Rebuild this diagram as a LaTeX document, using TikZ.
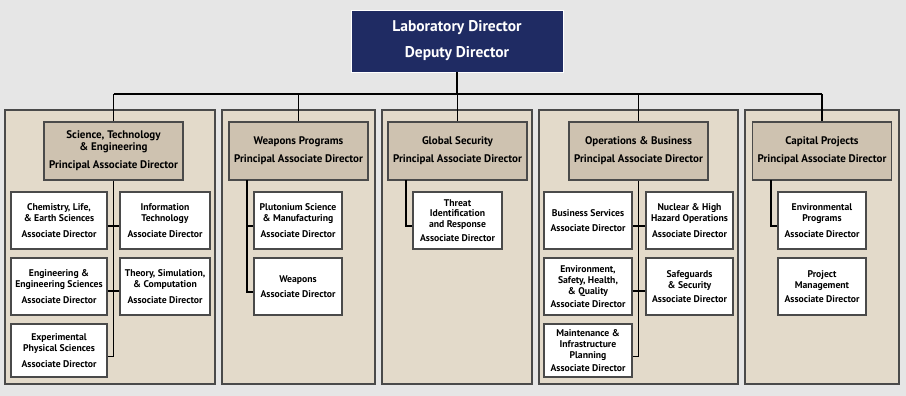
\documentclass[tikz,border=0pt]{standalone}
\usepackage{fontspec}
\setmainfont{PT Sans}
\usepackage{tikz}
\usetikzlibrary{positioning, calc}
\definecolor{pagebg}{HTML}{E6E6E6}
\definecolor{panelfill}{HTML}{E3DACA}
\definecolor{headfill}{HTML}{CEC2B0}
\definecolor{boxline}{HTML}{4A4A4A}
\definecolor{labnavy}{HTML}{1F2B63}
\tikzset{
  panel/.style={draw=boxline, line width=1.3pt, fill=panelfill},
  topbox/.style={draw=white, line width=0.8pt, fill=labnavy, text=white, inner sep=0pt,
    minimum width=212pt, minimum height=62pt, align=center,
    font=\fontsize{15.5}{17}\selectfont\bfseries},
  padbox/.style={draw=boxline, line width=1.3pt, fill=headfill, inner sep=0pt,
    minimum width=139pt, minimum height=58pt, align=center,
    font=\fontsize{11}{12}\selectfont\bfseries},
  adbox/.style={draw=boxline, line width=1.3pt, fill=white, inner sep=0pt,
    minimum width=89pt, minimum height=57pt, align=center,
    font=\fontsize{9.7}{11.2}\selectfont\bfseries},
  link/.style={draw=black, line width=1.6pt}
}
\begin{document}
\begin{tikzpicture}[x=1pt, y=-1pt]
            % page and panels
            \fill[pagebg] (0,0) rectangle (906,396);
            \useasboundingbox (0,0) rectangle (906,396);
            \draw[panel] (5,110) rectangle (215,384);
            \draw[panel] (222,110) rectangle (375,384);
            \draw[panel] (382,110) rectangle (532,384);
            \draw[panel] (539,110) rectangle (738,384);
            \draw[panel] (745,110) rectangle (899,384);

            % Director
            \node[topbox] (lab) at (457,41) {Laboratory Director\\[9pt]Deputy Director};
            \coordinate (bus) at (0,94);

            % Principal associate directors
            \node[padbox] (ste) at (113.5,151) {Science, Technology\\\& Engineering\\[6pt]Principal Associate Director};
            \node[padbox] (wpn) at (298.5,151) {Weapons Programs\\[6pt]Principal Associate Director};
            \node[padbox] (gsc) at (457.5,151) {Global Security\\[6pt]Principal Associate Director};
            \node[padbox] (opb) at (638.5,151) {Operations \& Business\\[6pt]Principal Associate Director};
            \node[padbox] (cap) at (822,151) {Capital Projects\\[6pt]Principal Associate Director};

            % Science, Technology & Engineering
            \node[adbox, minimum width=96pt] (che) at (59,220.5) {Chemistry, Life,\\\& Earth Sciences\\[4pt]Associate Director};
            \node[adbox, minimum width=90pt] (inf) at (165,220.5) {Information\\Technology\\[4pt]Associate Director};
            \node[adbox, minimum width=96pt] (eng) at (59,286.5) {Engineering \&\\Engineering Sciences\\[4pt]Associate Director};
            \node[adbox, minimum width=90pt] (tsc) at (165,286.5) {Theory, Simulation,\\\& Computation\\[4pt]Associate Director};
            \node[adbox, minimum width=96pt, minimum height=53pt] (eps) at (59,350.5) {Experimental\\Physical Sciences\\[4pt]Associate Director};

            % Weapons Programs
            \node[adbox, minimum width=88pt] (plu) at (298,220.5) {Plutonium Science\\\& Manufacturing\\[4pt]Associate Director};
            \node[adbox, minimum width=88pt] (wea) at (298,286.5) {Weapons\\[4pt]Associate Director};

            % Global Security
            \node[adbox, font=\fontsize{9.7}{10.8}\selectfont\bfseries] (tir) at (457.5,220.5) {Threat\\Identification\\and Response\\[3pt]Associate Director};

            % Operations & Business
            \node[adbox, minimum width=88pt] (bsv) at (588,220.5) {Business Services\\[4pt]Associate Director};
            \node[adbox, minimum width=87pt] (nhh) at (689.5,220.5) {Nuclear \& High\\Hazard Operations\\[4pt]Associate Director};
            \node[adbox, minimum width=88pt, font=\fontsize{9.7}{10.8}\selectfont\bfseries] (esh) at (588,286.5) {Environment,\\Safety, Health,\\\& Quality\\[2pt]Associate Director};
            \node[adbox, minimum width=87pt] (saf) at (689.5,286.5) {Safeguards\\\& Security\\[2pt]Associate Director};
            \node[adbox, minimum width=88pt, minimum height=53pt, font=\fontsize{9.7}{10.8}\selectfont\bfseries] (mip) at (588,350.5) {Maintenance \&\\Infrastructure\\Planning\\[2pt]Associate Director};

            % Capital Projects
            \node[adbox, minimum width=88pt] (env) at (822,220.5) {Environmental\\Programs\\[4pt]Associate Director};
            \node[adbox, minimum width=88pt] (pmg) at (822,286.5) {Project\\Management\\[2pt]Associate Director};

            % top level links
            \draw[link] (lab.south) -- (lab.south |- bus);
            \draw[link] (ste.north |- bus) -- (cap.north |- bus);
            \foreach \pad in {ste, wpn, gsc, opb, cap}
              \draw[link] (\pad.north |- bus) -- (\pad.north);

            % Science, Technology & Engineering links
            \draw[link] (ste.south) |- ([yshift=-6pt]eps.east);
            \draw[link] ([yshift=-5.5pt]che.east) -- ([yshift=-5.5pt]inf.west);
            \draw[link] ([yshift=-4.5pt]eng.east) -- ([yshift=-4.5pt]tsc.west);

            % Weapons Programs links
            \coordinate (wpnT) at (247,180);
            \draw[link] (wpnT) |- ([yshift=-5.5pt]plu.west);
            \draw[link] (wpnT) |- ([yshift=-5.5pt]wea.west);

            % Global Security link
            \coordinate (gscT) at (406,180);
            \draw[link] (gscT) |- ([yshift=-5.5pt]tir.west);

            % Operations & Business links
            \draw[link] (opb.south) |- ([yshift=-6pt]mip.east);
            \draw[link] ([yshift=-5.5pt]bsv.east) -- ([yshift=-5.5pt]nhh.west);
            \draw[link] ([yshift=-4.5pt]esh.east) -- ([yshift=-4.5pt]saf.west);

            % Capital Projects link
            \coordinate (capT) at (771,180);
            \draw[link] (capT) |- ([yshift=-5.5pt]env.west);
        \end{tikzpicture}
\end{document}
